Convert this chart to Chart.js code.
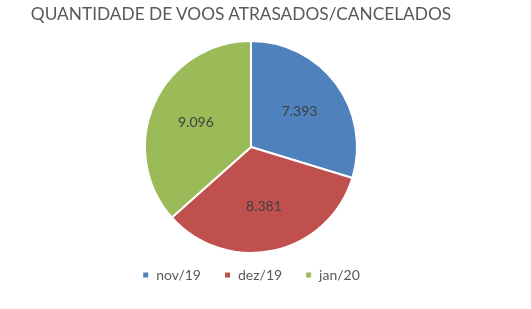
<!DOCTYPE html>
<html>
<head>
<meta charset="utf-8">
<script src="https://cdn.jsdelivr.net/npm/chart.js@4"></script>
<style>
    html, body { margin: 0; padding: 0; background: #fff; }
    #wrap { position: relative; width: 531px; height: 309px; }
    #title {
        position: absolute; left: 0; top: 3px; width: 482px;
        text-align: center; color: #595959;
        font: 17.3px Lato, "Open Sans", sans-serif; line-height: 21px;
        white-space: nowrap;
    }
</style>
</head>
<body>
<div id="wrap">
    <canvas id="myChart" width="531" height="309"></canvas>
    <div id="title"></div>
</div>
<script>
const TITLE = 'QUANTIDADE DE VOOS ATRASADOS/CANCELADOS';
const MONTHS = ['nov/19', 'dez/19', 'jan/20'];
const DELAYED = [7393, 8381, 9096];
const COLORS = ['#4F81BD', '#C0504D', '#9BBB59'];

document.getElementById('title').textContent = TITLE;

// draws the value inside each slice, pt-BR thousands separator
const sliceLabels = {
    id: 'sliceLabels',
    afterDatasetsDraw(chart) {
        const ctx = chart.ctx;
        const meta = chart.getDatasetMeta(0);
        ctx.save();
        ctx.font = '14px Lato, "Open Sans", sans-serif';
        ctx.fillStyle = '#404040';
        ctx.textAlign = 'center';
        ctx.textBaseline = 'middle';
        meta.data.forEach((arc, i) => {
            const p = arc.getProps(['x', 'y', 'startAngle', 'endAngle', 'outerRadius'], true);
            const mid = (p.startAngle + p.endAngle) / 2;
            const r = p.outerRadius * 0.57;
            const text = DELAYED[i].toLocaleString('pt-BR');
            ctx.fillText(text, p.x + Math.cos(mid) * r, p.y + Math.sin(mid) * r);
        });
        ctx.restore();
    }
};

const ctx = document.getElementById('myChart').getContext('2d');
const myChart = new Chart(ctx, {
    type: 'pie',
    data: {
        labels: MONTHS,
        datasets: [{
            data: DELAYED,
            backgroundColor: COLORS,
            borderColor: '#ffffff',
            borderWidth: 2,
            clip: false
        }]
    },
    options: {
        responsive: false,
        animation: false,
        radius: 106,
        layout: { padding: { left: 0, right: 29, top: 49, bottom: 17 } },
        plugins: {
            title: { display: false },
            legend: {
                position: 'bottom',
                labels: {
                    boxWidth: 7,
                    boxHeight: 7,
                    padding: 23,
                    color: '#595959',
                    font: { family: 'Lato, "Open Sans", sans-serif', size: 14 }
                }
            },
            tooltip: { enabled: false }
        }
    },
    plugins: [sliceLabels]
});
</script>
</body>
</html>
